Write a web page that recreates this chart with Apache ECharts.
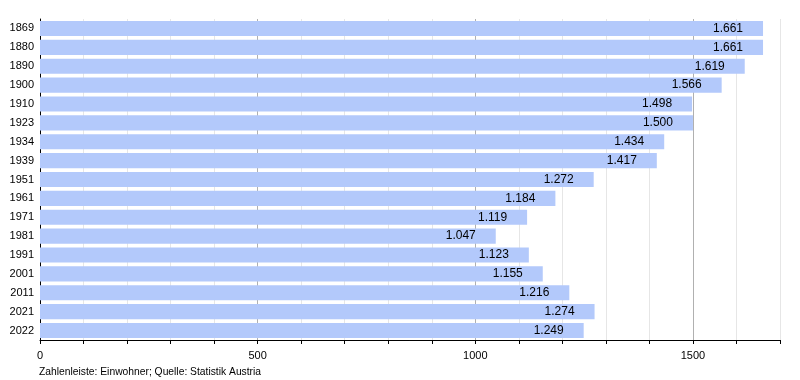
<!DOCTYPE html>
<html>
<head>
<meta charset="utf-8">
<script src="https://cdn.jsdelivr.net/npm/echarts@6/dist/echarts.min.js"></script>
<style>html,body{margin:0;padding:0;background:#fff}#c{width:800px;height:380px}</style>
</head>
<body>
<div id="c"></div>
<script>
var years = ['1869','1880','1890','1900','1910','1923','1934','1939','1951','1961','1971','1981','1991','2001','2011','2021','2022'];
var population = [1661,1661,1619,1566,1498,1500,1434,1417,1272,1184,1119,1047,1123,1155,1216,1274,1249];
var footer = 'Zahlenleiste: Einwohner; Quelle: Statistik Austria';

var chart = echarts.init(document.getElementById('c'));
var font = 'Liberation Sans, Arial, sans-serif';
chart.setOption({
  animation: false,
  textStyle: {fontFamily: font},
  title: {
    text: footer, left: 34, top: 362,
    textStyle: {fontSize: 10.3, fontWeight: 'normal', color: '#000', fontFamily: font}
  },
  grid: {left: 40, right: 20, top: 19, bottom: 40, containLabel: false},
  xAxis: {
    type: 'value', min: 0, max: 1700, interval: 100,
    axisLine: {show: true, lineStyle: {color: '#000', width: 1}},
    axisTick: {show: true, length: 4, lineStyle: {color: '#000'}},
    axisLabel: {
      fontSize: 11, color: '#000', margin: 10, fontFamily: font,
      formatter: function (v) { return v % 500 === 0 ? String(v) : ''; }
    },
    splitLine: {show: true, lineStyle: {color: ['#b0b0b0','#e6e6e6','#e6e6e6','#e6e6e6','#e6e6e6'], width: 1}}
  },
  yAxis: {
    type: 'category', data: years, inverse: true,
    axisLine: {show: true, lineStyle: {color: '#000', width: 1}},
    axisTick: {show: false},
    axisLabel: {fontSize: 11, color: '#000', margin: 6, fontFamily: font}
  },
  series: [{
    type: 'bar', data: population, barCategoryGap: '20%',
    itemStyle: {color: '#b3c9fb'},
    label: {
      show: true, position: 'insideRight', distance: 20,
      fontSize: 12, color: '#000', fontFamily: font,
      formatter: function (p) {
        var v = p.value;
        return Math.floor(v / 1000) + '.' + String(v % 1000).padStart(3, '0');
      }
    }
  }]
});
</script>
</body>
</html>
